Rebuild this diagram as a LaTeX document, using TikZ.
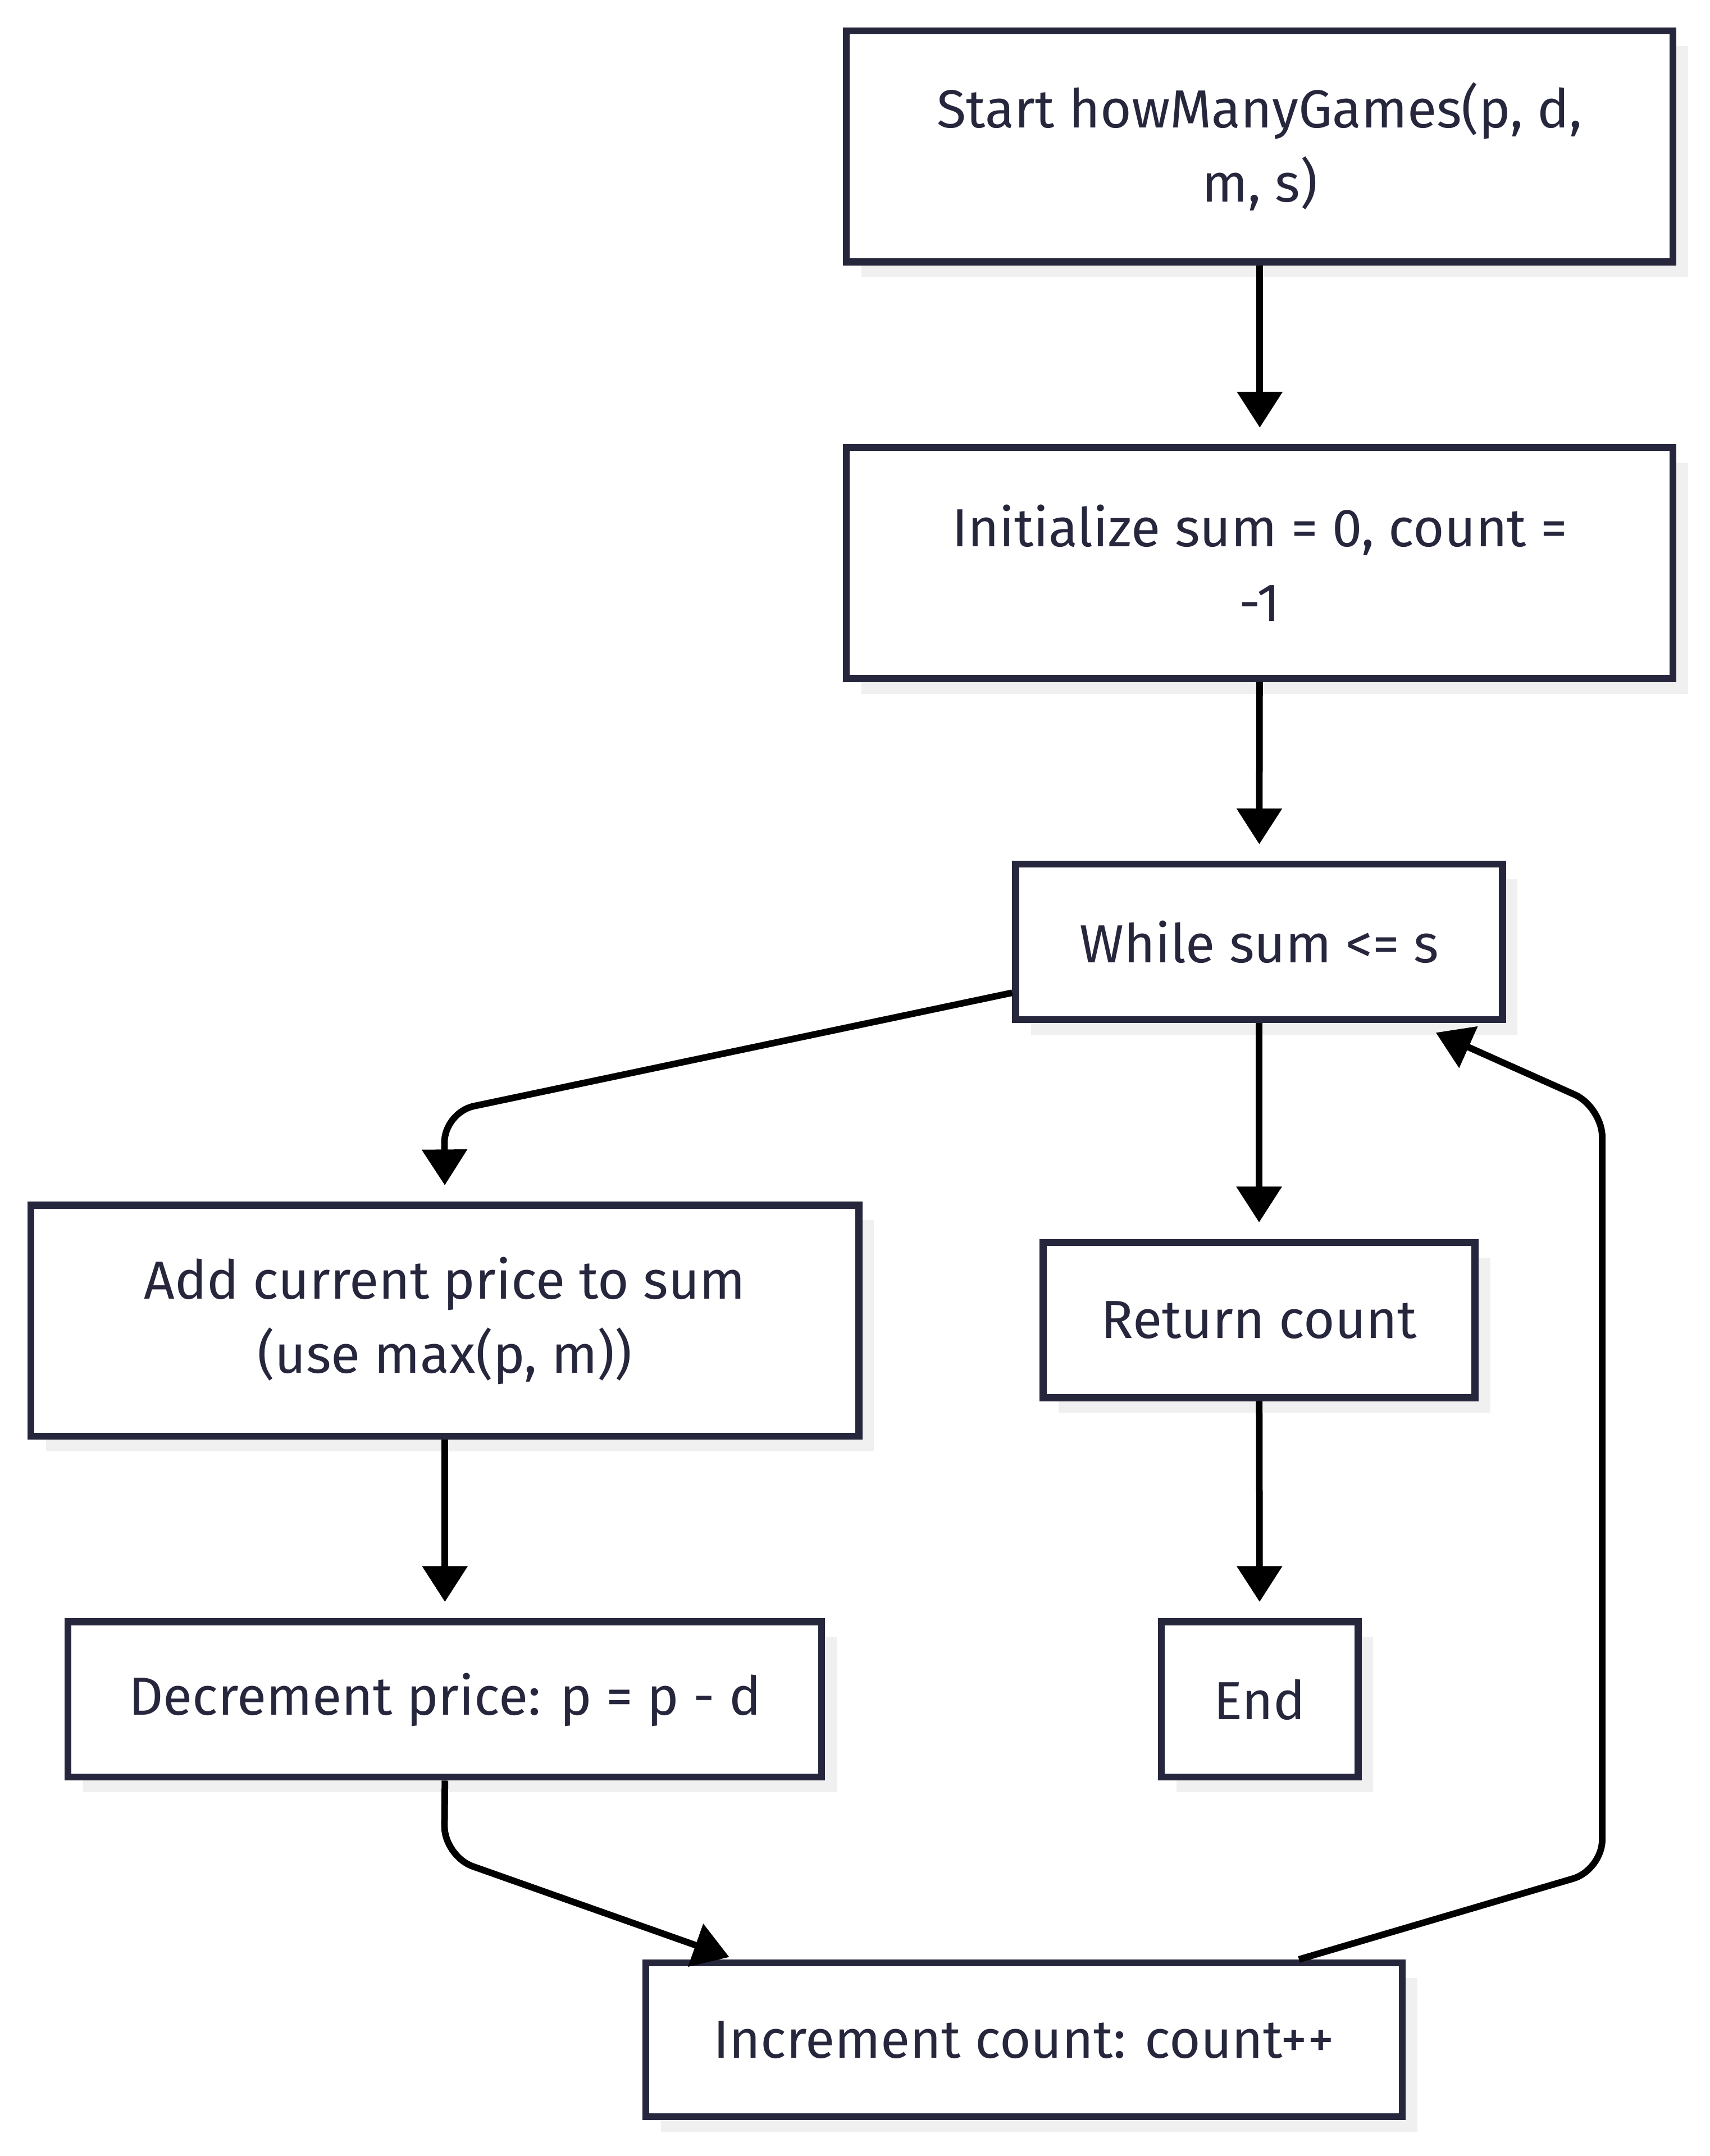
\documentclass[tikz,border=0pt]{standalone}
\usepackage{fontspec}
\setmainfont{Fira Sans}
\usetikzlibrary{arrows.meta,shadows}
\definecolor{boxline}{RGB}{38,38,61}
\definecolor{shade}{RGB}{240,240,240}
\tikzset{
  stepbox/.style={draw=boxline,line width=5pt,fill=white,text=boxline,align=center,inner sep=0pt,
    font=\fontsize{39}{54}\selectfont,
    drop shadow={shadow xshift=11pt,shadow yshift=-11pt,fill=shade,opacity=1}},
  flow/.style={line width=4.8pt,-{Triangle[length=26pt,width=32pt]},shorten >=12pt,rounded corners=22pt}
}
\begin{document}
\begin{tikzpicture}[x=1pt,y=-1pt]
\useasboundingbox (0,0) rectangle (1243,1568);
\node[stepbox,minimum width=601pt,minimum height=168pt] (start) at (916,106.5) {Start howManyGames(p, d,\\ m, s)};
\node[stepbox,minimum width=601pt,minimum height=168pt] (init) at (916,409.5) {Initialize sum = 0, count =\\ -1};
\node[stepbox,minimum width=354pt,minimum height=113pt] (while) at (915.5,685) {While sum <= s};
\node[stepbox,minimum width=602pt,minimum height=168pt] (add) at (323.5,960.5) {Add current price to sum\\ (use max(p, m))};
\node[stepbox,minimum width=314pt,minimum height=113pt] (ret) at (915.5,960) {Return count};
\node[stepbox,minimum width=548pt,minimum height=113pt] (dec) at (323.5,1236) {Decrement price: p = p - d};
\node[stepbox,minimum width=143pt,minimum height=113pt] (end) at (916,1236) {End};
\node[stepbox,minimum width=550pt,minimum height=112pt] (inc) at (744.5,1483.5) {Increment count: count++};
\coordinate (b1) at (323,809);
\coordinate (b2) at (323,1350);
\coordinate (b3) at (1165,1360);
\coordinate (b4) at (1165,805);
\draw[flow] (start) -- (init);
\draw[flow] (init) -- (while);
\draw[flow] ([yshift=-37pt]while.west) -- (b1) -- (add.north);
\draw[flow] (while) -- (ret);
\draw[flow] (ret) -- (end);
\draw[flow] (add) -- (dec);
\draw[flow,shorten >=5pt] (dec.south) -- (b2) -- ([xshift=-209.5pt]inc.north);
\draw[flow,shorten >=0pt] ([xshift=200pt]inc.north) -- (b3) -- (b4) -- ([xshift=128.5pt,yshift=-7pt]while.south);
\end{tikzpicture}
\end{document}
